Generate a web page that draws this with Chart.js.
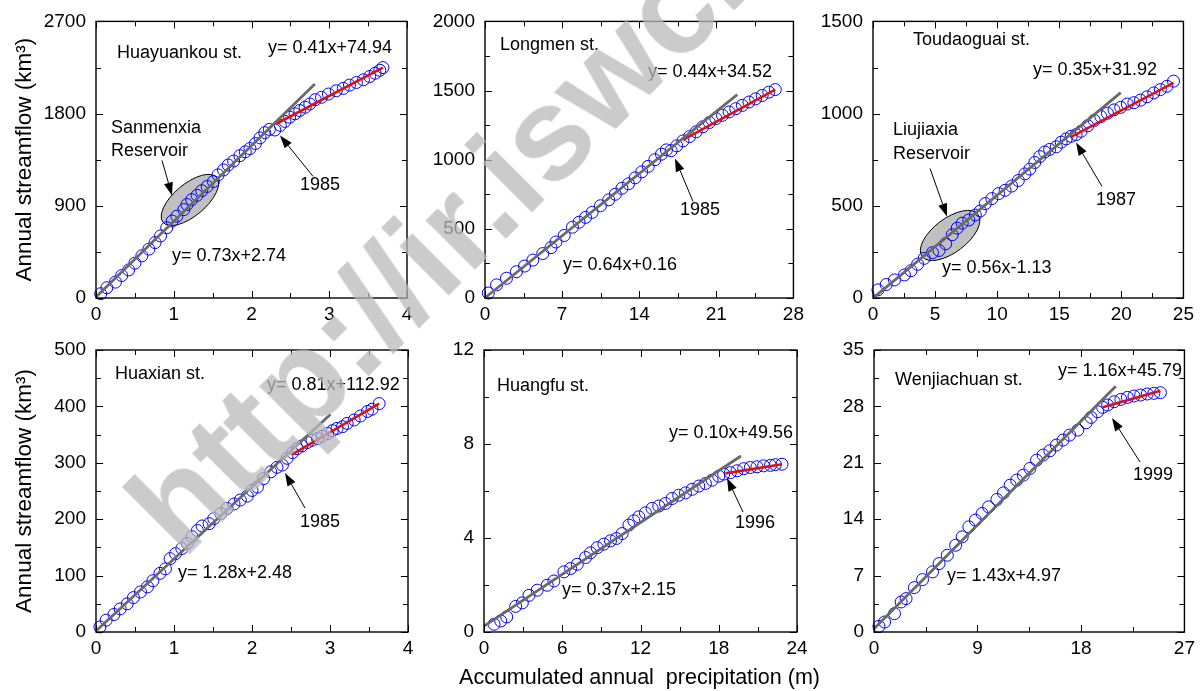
<!DOCTYPE html>
<html>
<head>
<meta charset="utf-8">
<script src="https://cdn.jsdelivr.net/npm/chart.js@4.4.1/dist/chart.umd.min.js"></script>
<style>
  html, body { margin: 0; padding: 0; background: #fff; }
  #page { position: relative; width: 1200px; height: 691px; overflow: hidden; background: #fff; }
  #page canvas { position: absolute; }
  #mark {
    position: absolute; left: 184px; top: 450px;
    font: bold 132px "Liberation Sans", Arial, sans-serif; line-height: 132px;
    color: rgba(185, 185, 185, 0.75); white-space: nowrap;
    transform: rotate(-45deg); transform-origin: 0 112px; pointer-events: none;
  }
</style>
</head>
<body>
<div id="page">
  <canvas id="p1"></canvas>
  <canvas id="p2"></canvas>
  <canvas id="p3"></canvas>
  <canvas id="p4"></canvas>
  <canvas id="p5"></canvas>
  <canvas id="p6"></canvas>
  <div id="mark">http://ir.iswc.ac.cn</div>
</div>
<script>
// accumulated precipitation (m) vs accumulated streamflow (km3)

const huayuankouX = [0.06, 0.14, 0.25, 0.33, 0.42, 0.50, 0.59, 0.68, 0.76, 0.83, 0.91, 0.98, 1.04, 1.13, 1.17, 1.23, 1.30, 1.36, 1.43, 1.51, 1.57, 1.64, 1.70, 1.77, 1.85, 1.92, 1.98, 2.05, 2.11, 2.17, 2.23, 2.30, 2.37, 2.43, 2.49, 2.56, 2.62, 2.69, 2.75, 2.82, 2.90, 2.99, 3.09, 3.18, 3.26, 3.35, 3.44, 3.52, 3.59, 3.65, 3.69];
const huayuankouY = [42, 100, 155, 219, 274, 340, 412, 477, 541, 606, 686, 751, 799, 863, 912, 960, 1002, 1047, 1089, 1137, 1202, 1250, 1298, 1337, 1389, 1427, 1459, 1508, 1563, 1614, 1646, 1640, 1685, 1724, 1765, 1798, 1830, 1862, 1894, 1936, 1959, 1991, 2023, 2046, 2078, 2104, 2130, 2162, 2194, 2223, 2249];
const huayuankouBefore = [{x: 0, y: 10}, {x: 2.815, y: 2088}];
const huayuankouAfter = [{x: 2.32, y: 1701}, {x: 3.69, y: 2249}];

const longmenX = [0.30, 1.05, 1.95, 2.85, 3.59, 4.34, 5.24, 5.99, 6.44, 7.19, 7.94, 8.54, 9.13, 9.73, 10.48, 11.23, 11.83, 12.43, 13.03, 13.63, 14.23, 14.82, 15.42, 16.02, 16.47, 16.90, 17.40, 17.97, 18.57, 19.17, 19.77, 20.37, 20.96, 21.56, 22.16, 22.76, 23.36, 23.96, 24.56, 25.16, 25.76, 26.35];
const longmenY = [36, 95, 143, 190, 231, 274, 321, 364, 405, 452, 512, 548, 583, 619, 667, 710, 750, 793, 826, 869, 912, 952, 1000, 1040, 1071, 1065, 1100, 1136, 1167, 1202, 1238, 1269, 1298, 1321, 1345, 1369, 1393, 1417, 1440, 1464, 1488, 1507];
const longmenBefore = [{x: 0.1, y: 7}, {x: 22.9, y: 1471}];
const longmenAfter = [{x: 17.97, y: 1143}, {x: 26.35, y: 1507}];

const toudaoguaiX = [0.40, 1.06, 1.73, 2.53, 3.06, 3.59, 4.12, 4.79, 5.32, 5.85, 6.38, 6.78, 7.18, 7.71, 8.24, 8.64, 9.04, 9.57, 10.11, 10.64, 11.17, 11.70, 12.23, 12.63, 13.03, 13.43, 13.83, 14.23, 14.76, 15.16, 15.56, 15.96, 16.36, 16.76, 17.29, 17.82, 18.35, 18.88, 19.41, 19.95, 20.48, 21.01, 21.54, 22.07, 22.61, 23.14, 23.67, 24.20];
const toudaoguaiY = [44, 73, 98, 125, 148, 183, 215, 246, 258, 294, 343, 379, 406, 423, 450, 472, 512, 539, 566, 584, 607, 637, 673, 699, 735, 767, 792, 806, 820, 845, 863, 877, 886, 904, 934, 963, 984, 1002, 1020, 1034, 1052, 1059, 1073, 1091, 1112, 1130, 1148, 1176];
const toudaoguaiBefore = [{x: 0.1, y: 5}, {x: 19.95, y: 1114}];
const toudaoguaiAfter = [{x: 15.96, y: 874}, {x: 24.2, y: 1167}];

const huaxianX = [0.05, 0.13, 0.23, 0.31, 0.40, 0.48, 0.57, 0.66, 0.73, 0.82, 0.89, 0.95, 1.02, 1.10, 1.17, 1.23, 1.30, 1.36, 1.45, 1.51, 1.60, 1.68, 1.77, 1.85, 1.94, 2.00, 2.07, 2.15, 2.24, 2.32, 2.39, 2.45, 2.52, 2.58, 2.64, 2.71, 2.77, 2.84, 2.90, 2.97, 3.03, 3.09, 3.16, 3.22, 3.31, 3.39, 3.48, 3.54, 3.63];
const huaxianY = [9, 21, 31, 41, 50, 61, 71, 80, 91, 104, 112, 130, 139, 148, 157, 169, 180, 188, 192, 201, 210, 219, 227, 234, 241, 251, 257, 272, 284, 292, 296, 308, 318, 325, 330, 336, 340, 343, 347, 352, 357, 361, 364, 370, 376, 383, 391, 395, 405];
const huaxianBefore = [{x: 0.01, y: 3}, {x: 3.007, y: 386}];
const huaxianAfter = [{x: 2.515, y: 315}, {x: 3.63, y: 405}];

const huangfuX = [0.77, 1.28, 1.74, 2.43, 2.94, 3.45, 4.08, 4.85, 5.36, 6.13, 6.64, 7.15, 7.79, 8.17, 8.68, 9.19, 9.70, 10.16, 10.59, 11.11, 11.49, 11.87, 12.38, 12.89, 13.40, 13.91, 14.42, 14.93, 15.45, 15.96, 16.47, 16.98, 17.49, 18.00, 18.38, 18.89, 19.40, 19.91, 20.42, 20.93, 21.44, 21.96, 22.34, 22.85];
const huangfuY = [0.33, 0.47, 0.64, 1.09, 1.24, 1.56, 1.78, 1.99, 2.17, 2.56, 2.70, 2.88, 3.17, 3.37, 3.59, 3.74, 3.88, 3.98, 4.19, 4.55, 4.73, 4.90, 5.07, 5.26, 5.36, 5.47, 5.68, 5.82, 5.92, 6.07, 6.21, 6.32, 6.46, 6.63, 6.72, 6.78, 6.86, 6.95, 7.00, 7.03, 7.07, 7.09, 7.12, 7.14];
const huangfuBefore = [{x: 0, y: 0.25}, {x: 19.7, y: 7.49}];
const huangfuAfter = [{x: 18.51, y: 6.75}, {x: 22.85, y: 7.14}];

const wenjiachuanX = [0.43, 0.92, 1.78, 2.36, 2.79, 3.51, 4.22, 5.09, 5.66, 6.38, 7.10, 7.67, 8.25, 8.82, 9.40, 9.97, 10.69, 11.26, 11.84, 12.41, 12.99, 13.56, 14.14, 14.71, 15.29, 15.86, 16.44, 17.01, 17.73, 18.45, 18.88, 19.45, 19.89, 20.32, 20.89, 21.47, 22.04, 22.61, 23.19, 23.76, 24.34, 24.91];
const wenjiachuanY = [0.70, 1.24, 2.28, 3.73, 4.14, 5.51, 6.50, 7.46, 8.49, 9.53, 10.77, 11.81, 13.05, 13.88, 14.71, 15.53, 16.45, 17.27, 18.23, 18.85, 19.47, 20.30, 21.33, 21.96, 22.49, 23.20, 23.82, 24.44, 25.06, 25.97, 26.64, 27.34, 27.88, 28.17, 28.58, 28.87, 29.12, 29.29, 29.41, 29.54, 29.62, 29.70];
const wenjiachuanBefore = [{x: 0, y: 0.4}, {x: 21.03, y: 30.5}];
const wenjiachuanAfter = [{x: 19.89, y: 27.88}, {x: 24.91, y: 29.95}];

// axis ranges: [min, max, step]
const huayuankouAxes = {x: [0, 4, 1], y: [0, 2700, 900]};
const longmenAxes = {x: [0, 28, 7], y: [0, 2000, 500]};
const toudaoguaiAxes = {x: [0, 25, 5], y: [0, 1500, 500]};
const huaxianAxes = {x: [0, 4, 1], y: [0, 500, 100]};
const huangfuAxes = {x: [0, 24, 6], y: [0, 12, 4]};
const wenjiachuanAxes = {x: [0, 27, 9], y: [0, 35, 7]};

const yTitle = 'Annual streamflow (km³)';
const xTitle = 'Accumulated annual  precipitation (m)';

const FONT = '"Liberation Sans", Arial, sans-serif';
const BLUE = '#0000ff';
const GRAY = '#6a6a6a';
const RED = '#e01010';

// draws the ellipse, the closed frame with inward ticks, texts and arrows
const decor = {
    id: 'decor',
    beforeDatasetsDraw(chart, args, o) {
        if (!o.ellipse) return;
        const {ctx, scales: {x, y}} = chart;
        const e = o.ellipse;
        ctx.save();
        ctx.beginPath();
        ctx.ellipse(x.getPixelForValue(e.x), y.getPixelForValue(e.y), e.rx, e.ry, e.angle * Math.PI / 180, 0, Math.PI * 2);
        ctx.fillStyle = '#c0c0c0';
        ctx.fill();
        ctx.lineWidth = 1;
        ctx.strokeStyle = '#000';
        ctx.stroke();
        ctx.restore();
    },
    afterDatasetsDraw(chart, args, o) {
        const {ctx, chartArea: a, scales: {x, y}} = chart;
        ctx.save();
        ctx.strokeStyle = '#000';
        ctx.lineWidth = 1;
        ctx.beginPath();
        const xs = x.ticks.map(t => t.value);
        const ys = y.ticks.map(t => t.value);
        const marks = (vals) => {
            const out = [];
            vals.forEach((v, i) => {
                out.push([v, 7]);
                if (i < vals.length - 1) out.push([(v + vals[i + 1]) / 2, 5]);
            });
            return out;
        };
        marks(xs).forEach(([v, len]) => {
            const p = Math.round(x.getPixelForValue(v)) + 0.5;
            ctx.moveTo(p, a.bottom); ctx.lineTo(p, a.bottom - len);
            ctx.moveTo(p, a.top); ctx.lineTo(p, a.top + len);
        });
        marks(ys).forEach(([v, len]) => {
            const p = Math.round(y.getPixelForValue(v)) + 0.5;
            ctx.moveTo(a.left, p); ctx.lineTo(a.left + len, p);
            ctx.moveTo(a.right, p); ctx.lineTo(a.right - len, p);
        });
        ctx.stroke();
        ctx.lineWidth = 1.4;
        ctx.strokeRect(a.left, a.top, a.right - a.left, a.bottom - a.top);

        ctx.fillStyle = '#000';
        ctx.font = '18px ' + FONT;
        ctx.textAlign = 'left';
        ctx.textBaseline = 'middle';
        (o.labels || []).forEach(([t, dx, dy]) => ctx.fillText(t, a.left + dx, a.top + dy));

        // shared x-axis title, drawn without the width cap Chart.js puts on scale titles
        if (o.xTitle) {
            ctx.font = '21.5px ' + FONT;
            ctx.textAlign = 'center';
            ctx.fillText(o.xTitle, (a.left + a.right) / 2 - 1, a.bottom + 46);
        }

        ctx.lineWidth = 1;
        (o.arrows || []).forEach(([x0, y0, x1, y1]) => {
            const sx = a.left + x0, sy = a.top + y0, ex = a.left + x1, ey = a.top + y1;
            const ang = Math.atan2(ey - sy, ex - sx);
            const hl = 13, hw = 4.5;
            const bx = ex - hl * Math.cos(ang), by = ey - hl * Math.sin(ang);
            ctx.beginPath();
            ctx.moveTo(sx, sy); ctx.lineTo(bx, by);
            ctx.stroke();
            ctx.beginPath();
            ctx.moveTo(ex, ey);
            ctx.lineTo(bx + hw * Math.sin(ang), by - hw * Math.cos(ang));
            ctx.lineTo(bx - hw * Math.sin(ang), by + hw * Math.cos(ang));
            ctx.closePath();
            ctx.fill();
        });
        ctx.restore();
    }
};

const panels = [
    {id: 'p1', box: [96, 18, 407, 298], yw: 96, xh: 30, pt: 18, pr: 12, axes: huayuankouAxes,
     px: huayuankouX, py: huayuankouY, before: huayuankouBefore, after: huayuankouAfter, yTitle: true,
     ellipse: {x: 1.208, y: 957, rx: 35, ry: 16, angle: -40},
     labels: [['Huayuankou st.', 21, 32], ['y= 0.41x+74.94', 172, 27], ['Sanmenxia', 15, 107], ['Reservoir', 15, 130], ['1985', 204, 164], ['y= 0.73x+2.74', 76, 235]],
     arrows: [[66, 139, 76, 174], [217, 155, 184, 114]]},
    {id: 'p2', box: [485, 18, 797, 298], yw: 70, xh: 30, pt: 18, pr: 12, axes: longmenAxes,
     px: longmenX, py: longmenY, before: longmenBefore, after: longmenAfter,
     labels: [['Longmen st.', 15, 24], ['y= 0.44x+34.52', 163, 51], ['1985', 195, 189], ['y= 0.64x+0.16', 78, 244]],
     arrows: [[208, 180, 190, 137]]},
    {id: 'p3', box: [873, 18, 1187, 298], yw: 70, xh: 30, pt: 18, pr: 12, axes: toudaoguaiAxes,
     px: toudaoguaiX, py: toudaoguaiY, before: toudaoguaiBefore, after: toudaoguaiAfter,
     ellipse: {x: 6.21, y: 339, rx: 35, ry: 17, angle: -37},
     labels: [['Toudaoguai st.', 40, 19], ['y= 0.35x+31.92', 160, 49], ['Liujiaxia', 20, 109], ['Reservoir', 20, 133], ['1987', 223, 179], ['y= 0.56x-1.13', 69, 247]],
     arrows: [[57, 147, 74, 195], [229, 165, 203, 121]]},
    {id: 'p4', box: [96, 350, 408, 632], yw: 96, xh: 59, pt: 25, pr: 12, axes: huaxianAxes,
     px: huaxianX, py: huaxianY, before: huaxianBefore, after: huaxianAfter, yTitle: true,
     labels: [['Huaxian st.', 19, 24], ['y= 0.81x+112.92', 171, 35], ['1985', 204, 172], ['y= 1.28x+2.48', 82, 223]],
     arrows: [[209, 158, 189, 123]]},
    {id: 'p5', box: [484, 350, 797, 632], yw: 70, xh: 59, pt: 25, pr: 40, axes: huangfuAxes,
     px: huangfuX, py: huangfuY, before: huangfuBefore, after: huangfuAfter, xTitle: true,
     labels: [['Huangfu st.', 13, 36], ['y= 0.10x+49.56', 185, 83], ['1996', 251, 173], ['y= 0.37x+2.15', 78, 240]],
     arrows: [[259, 162, 243, 128]]},
    {id: 'p6', box: [874, 350, 1188, 632], yw: 70, xh: 59, pt: 25, pr: 12, axes: wenjiachuanAxes,
     px: wenjiachuanX, py: wenjiachuanY, before: wenjiachuanBefore, after: wenjiachuanAfter,
     labels: [['Wenjiachuan st.', 21, 30], ['y= 1.16x+45.79', 184, 21], ['1999', 259, 125], ['y= 1.43x+4.97', 73, 226]],
     arrows: [[266, 112, 238, 68]]}
];

panels.forEach(p => {
    const [l, t, r, b] = p.box;
    const canvas = document.getElementById(p.id);
    const w = p.yw + (r - l) + p.pr;
    const h = p.pt + (b - t) + p.xh;
    canvas.width = w; canvas.height = h;
    canvas.style.width = w + 'px'; canvas.style.height = h + 'px';
    canvas.style.left = (l - p.yw) + 'px';
    canvas.style.top = (t - p.pt) + 'px';

    const tickFont = {size: 19, family: FONT};
    new Chart(canvas, {
        type: 'scatter',
        data: {
            datasets: [
                {data: p.before, showLine: true, borderColor: GRAY, borderWidth: 2.8, pointRadius: 0, clip: false},
                {data: p.after, showLine: true, borderColor: RED, borderWidth: 2.6, pointRadius: 0, clip: false},
                {data: p.px.map((v, i) => ({x: v, y: p.py[i]})), pointStyle: 'circle', pointRadius: 6,
                 borderColor: BLUE, borderWidth: 1, backgroundColor: 'rgba(0,0,0,0)', clip: false}
            ]
        },
        options: {
            responsive: false,
            animation: false,
            events: [],
            devicePixelRatio: 1,
            layout: {padding: {top: p.pt, right: p.pr, left: 0, bottom: 0}},
            plugins: {
                legend: {display: false},
                tooltip: {enabled: false},
                decor: {ellipse: p.ellipse, labels: p.labels, arrows: p.arrows, xTitle: p.xTitle ? xTitle : null}
            },
            scales: {
                x: {
                    type: 'linear', min: p.axes.x[0], max: p.axes.x[1],
                    grid: {display: false, drawTicks: false},
                    border: {display: false},
                    ticks: {stepSize: p.axes.x[2], color: '#000', font: tickFont, padding: 5,
                            maxRotation: 0, autoSkip: false, callback: v => String(v)},
                    afterFit: s => { s.height = p.xh; }
                },
                y: {
                    type: 'linear', min: p.axes.y[0], max: p.axes.y[1],
                    grid: {display: false, drawTicks: false},
                    border: {display: false},
                    ticks: {stepSize: p.axes.y[2], color: '#000', font: tickFont, padding: 10,
                            autoSkip: false, callback: v => String(v)},
                    title: {display: !!p.yTitle, text: yTitle, color: '#000',
                            font: {size: 22.5, family: FONT}, padding: {top: 11, bottom: 0}},
                    afterFit: s => { s.width = p.yw; }
                }
            }
        },
        plugins: [decor]
    });
});
</script>
</body>
</html>
